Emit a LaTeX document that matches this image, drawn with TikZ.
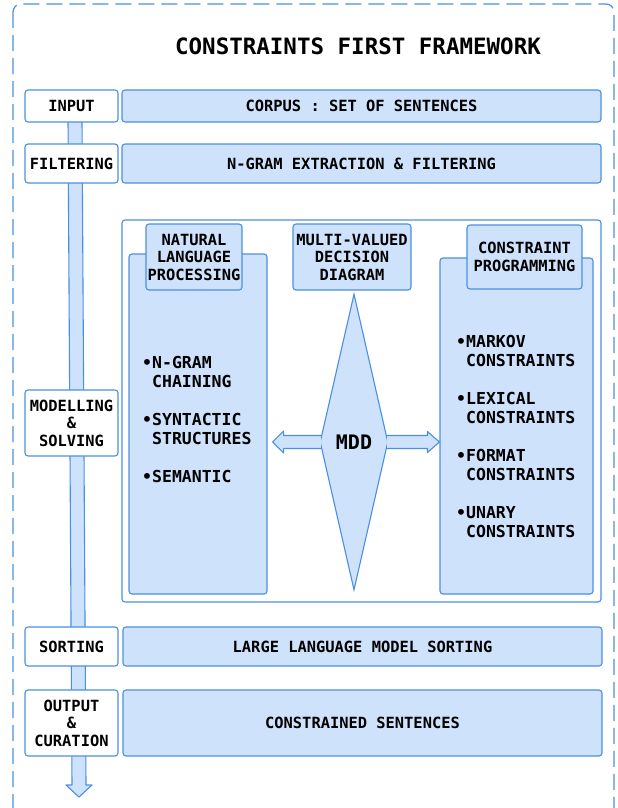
\documentclass[tikz,border=0pt]{standalone}
\usepackage{fontspec}
\setmonofont{DejaVu Sans Mono}
\usetikzlibrary{shapes.geometric,calc}

\definecolor{rahmen}{RGB}{74,144,226}
\definecolor{hellblau}{RGB}{207,226,252}

\begin{document}
\begin{tikzpicture}[x=1pt,y=-1pt,
schrift/.style={font=\ttfamily\bfseries\fontsize{15.4}{17.5}\selectfont},
kasten/.style={schrift, rectangle, rounded corners=3pt, draw=rahmen, line width=1.1pt, fill=hellblau, align=center, inner sep=0pt},
etikett/.style={kasten, fill=white},
liste/.style={font=\ttfamily\bfseries\fontsize{16.5}{19}\selectfont, align=left, anchor=west, inner sep=0pt},
pfeil/.style={draw=rahmen, line width=1.1pt, fill=hellblau, line join=round},
]

\useasboundingbox (0,0) rectangle (618,808);

\draw[rahmen, line width=1.2pt, dash pattern=on 16pt off 7pt, rounded corners=8pt] (13,4) rectangle (614,840);

%Ablauf von oben nach unten
\coordinate (oben) at (75,120);
\coordinate (unten) at (79,797);
\filldraw[pfeil] ($(oben)+(-7,0)$) -- ($(unten)+(-7,-12)$) -- ($(unten)+(-13,-12)$) -- (unten) -- ($(unten)+(13,-12)$) -- ($(unten)+(7,-12)$) -- ($(oben)+(7,0)$) -- cycle;

\node[font=\ttfamily\bfseries\fontsize{22.5}{26}\selectfont] (titel) at (358,46) {CONSTRAINTS FIRST FRAMEWORK};

\node[etikett, minimum width=93, minimum height=32] (input) at (71.5,106) {INPUT};
\node[kasten, minimum width=479, minimum height=32] (korpus) at (361.5,106) {CORPUS : SET OF SENTENCES};

\node[etikett, minimum width=93, minimum height=39] (filter) at (71.5,163.5) {FILTERING};
\node[kasten, minimum width=479, minimum height=39] (ngram) at (361.5,163.5) {N-GRAM EXTRACTION \& FILTERING};

\node[kasten, fill=white, minimum width=479, minimum height=382] (modell) at (361.5,411) {};
\node[etikett, minimum width=93, minimum height=66] (solve) at (71.5,423) {MODELLING\\\&\\SOLVING};

\node[kasten, minimum width=138, minimum height=340] (nlp) at (198,424) {};
\node[kasten, minimum width=96, minimum height=66] (nlptitel) at (194,257) {NATURAL\\LANGUAGE\\PROCESSING};
\node[kasten, minimum width=118, minimum height=66] (mddtitel) at (352,257) {MULTI-VALUED\\DECISION\\DIAGRAM};
\node[kasten, minimum width=153, minimum height=336] (cp) at (516.5,426) {};
\node[kasten, minimum width=115, minimum height=64] (cptitel) at (524.5,257) {CONSTRAINT\\PROGRAMMING};

\node[diamond, draw=rahmen, fill=hellblau, line width=1.1pt, minimum width=68, minimum height=296, inner sep=0pt, font=\ttfamily\bfseries\fontsize{20}{24}\selectfont] (mdd) at (354,442) {MDD};

\filldraw[pfeil] ($(mdd.west)+(1.5,-6.5)$) -- ($(nlp.east |- mdd.west)+(16,-6.5)$) -- ($(nlp.east |- mdd.west)+(16,-11)$) -- ($(nlp.east |- mdd.west)+(5,0)$) -- ($(nlp.east |- mdd.west)+(16,11)$) -- ($(nlp.east |- mdd.west)+(16,6.5)$) -- ($(mdd.west)+(1.5,6.5)$);
\filldraw[pfeil] ($(mdd.east)+(-1.5,-6.5)$) -- ($(cp.west |- mdd.east)+(-12,-6.5)$) -- ($(cp.west |- mdd.east)+(-12,-10.5)$) -- (cp.west |- mdd.east) -- ($(cp.west |- mdd.east)+(-12,10.5)$) -- ($(cp.west |- mdd.east)+(-12,6.5)$) -- ($(mdd.east)+(-1.5,6.5)$);

\node[liste] (nlpliste) at (142,419) {•N-GRAM\\\phantom{•}CHAINING\\[19pt]•SYNTACTIC\\\phantom{•}STRUCTURES\\[19pt]•SEMANTIC};
\node[liste] (cpliste) at (456,436) {•MARKOV\\\phantom{•}CONSTRAINTS\\[19pt]•LEXICAL\\\phantom{•}CONSTRAINTS\\[19pt]•FORMAT\\\phantom{•}CONSTRAINTS\\[19pt]•UNARY\\\phantom{•}CONSTRAINTS};

\node[etikett, minimum width=93, minimum height=39] (sort) at (71.5,646.5) {SORTING};
\node[kasten, minimum width=479, minimum height=39] (llm) at (362.5,646.5) {LARGE LANGUAGE MODEL SORTING};

\node[etikett, minimum width=93, minimum height=66] (output) at (71.5,723) {OUTPUT\\\&\\CURATION};
\node[kasten, minimum width=479, minimum height=66] (saetze) at (362.5,723) {CONSTRAINED SENTENCES};

\end{tikzpicture}
\end{document}
